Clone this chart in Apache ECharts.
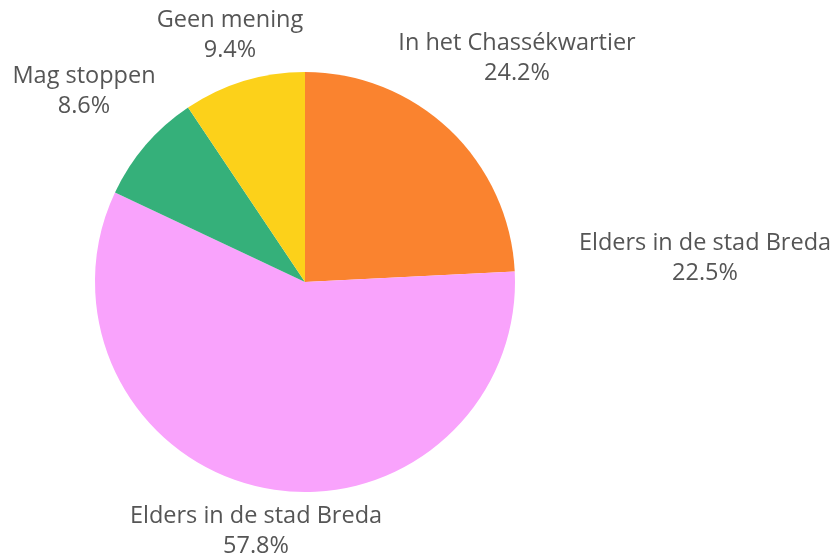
<!DOCTYPE html>
<html>
<head>
    <meta charset="utf-8" />
    <title>Pie</title>
    <script src="https://cdn.jsdelivr.net/npm/echarts@6/dist/echarts.min.js"></script>
</head>
<body style="margin:0;">
    <div style="width:839px;height:558px;" id="echart"></div>
</body>
</html>
<script>
    // slices, clockwise from 12 o'clock
    var names = ['In het Chassékwartier', 'Elders in de stad Breda', 'Elders in de stad Breda', 'Mag stoppen', 'Geen mening'];
    var values = [24.2, 0, 57.8, 8.6, 9.4];
    var pctLabels = ['24.2%', '22.5%', '57.8%', '8.6%', '9.4%'];
    var colors = ['#fa832f', '#fa832f', '#f9a3fc', '#35b07a', '#fcd11a'];

    // label centres (x, y)
    var labelPos = [[517, 58], [705, 258], [256, 531], [84, 91], [230, 35]];

    var myChart = echarts.init(document.getElementById('echart'));

    var data = [];
    for (var i = 0; i < names.length; i++) {
        data.push({ name: names[i], value: values[i], itemStyle: { color: colors[i] } });
    }

    var option = {
        animation: false,
        series: [{
            type: 'pie',
            center: [305, 282],
            radius: 210,
            startAngle: 90,
            clockwise: true,
            stillShowZeroSum: true,
            avoidLabelOverlap: false,
            itemStyle: { borderWidth: 0 },
            label: {
                show: true,
                position: 'outside',
                fontFamily: 'Open Sans',
                fontSize: 23.5,
                lineHeight: 30,
                color: '#555555',
                align: 'center',
                formatter: function (p) {
                    return p.name + '\n' + pctLabels[p.dataIndex];
                }
            },
            labelLine: { show: false },
            labelLayout: function (p) {
                var pos = labelPos[p.dataIndex];
                return { x: pos[0], y: pos[1], align: 'center', verticalAlign: 'middle' };
            },
            emphasis: { disabled: true },
            data: data
        }]
    };
    myChart.setOption(option);
</script>
